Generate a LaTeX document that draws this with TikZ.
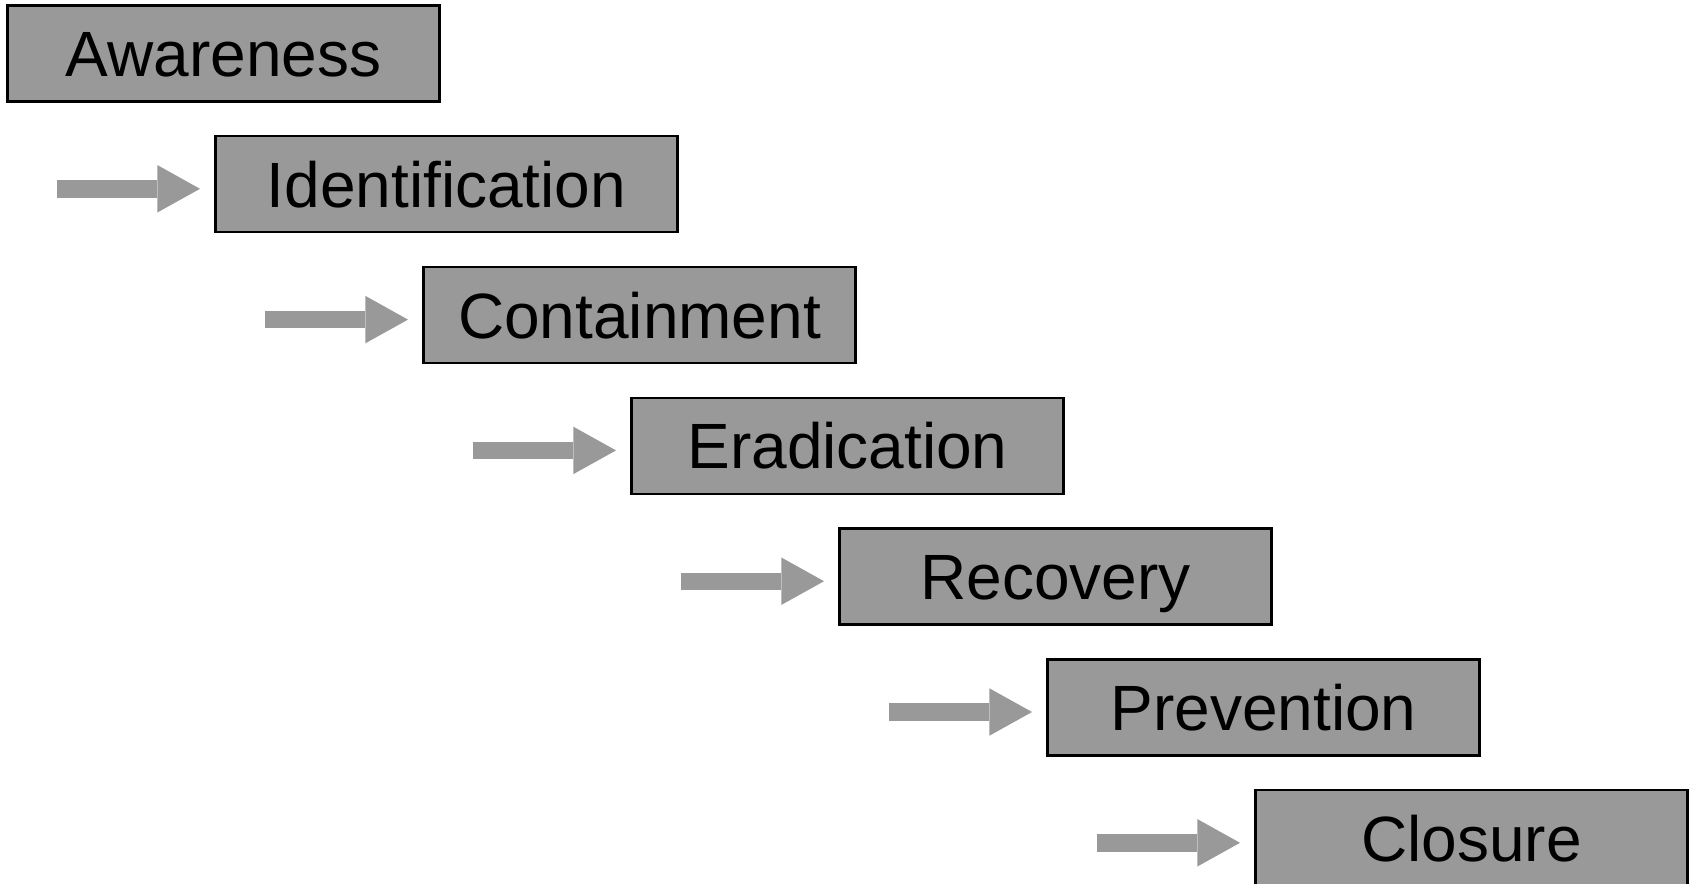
\documentclass[tikz,border=0pt]{standalone}
\usepackage{fontspec}
\setmainfont{Liberation Sans}
\usetikzlibrary{arrows,positioning}
\usetikzlibrary{arrows.meta}
\definecolor{colorBox}{HTML}{999999}
\definecolor{colorArr}{HTML}{999999}

\begin{document}
\begin{tikzpicture}[x=1pt,y=1pt,every node/.append style={align=center},phase/.style={draw, fill=colorBox, line width=1.2pt, minimum width=216pt, minimum height=48pt, inner sep=0pt, outer sep=0pt, font=\fontsize{32}{36}\selectfont, text height=23pt, text depth=0pt},flow/.style={colorArr, line width=8.7pt, -{Triangle[length=21.3pt, width=23.7pt, line width=0pt]}, shorten >=7.75pt},]
    \useasboundingbox (0,0) rectangle (844.5,-441.5);
    \node [phase, anchor=north west] (aware) at (3.75,-2.7) {Awareness};
    \node [phase, minimum width=231pt, below right=17.4pt and 104pt of aware.south west] (ident) {Identification};
    \node [phase, below right=17.4pt and 104pt of ident.south west] (contain) {Containment};
    \node [phase, below right=17.4pt and 104pt of contain.south west] (erad) {Eradication};
    \node [phase, below right=17.4pt and 104pt of erad.south west] (recov) {Recovery};
    \node [phase, below right=17.4pt and 104pt of recov.south west] (prevent) {Prevention};
    \node [phase, below right=17.4pt and 104pt of prevent.south west] (close) {Closure};
    \coordinate (in2) at ([xshift=-79.5pt, yshift=-2.3pt]ident.west);
    \coordinate (in3) at ([xshift=-79.5pt, yshift=-2.3pt]contain.west);
    \coordinate (in4) at ([xshift=-79.5pt, yshift=-2.3pt]erad.west);
    \coordinate (in5) at ([xshift=-79.5pt, yshift=-2.3pt]recov.west);
    \coordinate (in6) at ([xshift=-79.5pt, yshift=-2.3pt]prevent.west);
    \coordinate (in7) at ([xshift=-79.5pt, yshift=-2.3pt]close.west);
    \path[flow] (in2) edge (in2 -| ident.west);
    \path[flow] (in3) edge (in3 -| contain.west);
    \path[flow] (in4) edge (in4 -| erad.west);
    \path[flow] (in5) edge (in5 -| recov.west);
    \path[flow] (in6) edge (in6 -| prevent.west);
    \path[flow] (in7) edge (in7 -| close.west);
\end{tikzpicture}
\end{document}
